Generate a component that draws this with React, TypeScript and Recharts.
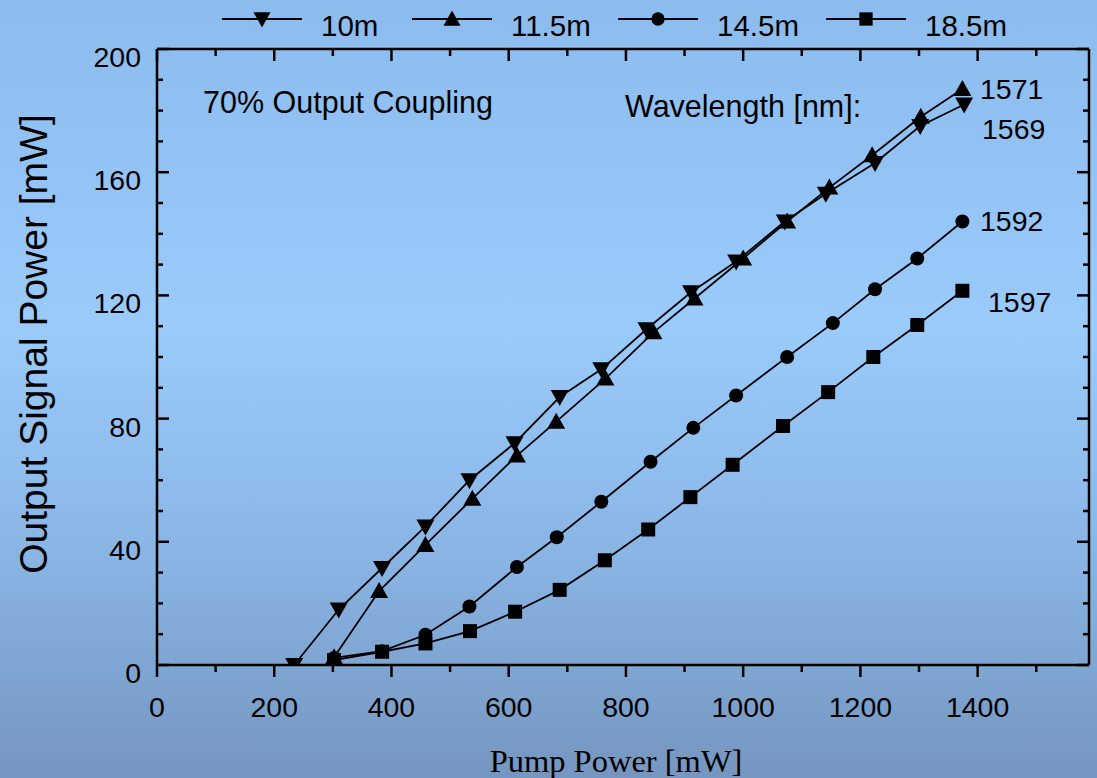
import { Line, LineChart, XAxis, YAxis } from "recharts";

// Pump power [mW] and output signal power [mW] per fibre length
const pump10 = [234, 310, 384, 458, 533, 610, 687, 758, 835, 911, 988, 1071, 1141, 1225, 1302, 1377];
const sig10 = [0, 18, 31.5, 45, 60, 72, 87, 96, 109, 121, 131, 144, 153, 163, 175, 182];

const pump11 = [302, 379, 458, 538, 614, 681, 765, 847, 917, 1000, 1075, 1147, 1220, 1303, 1374];
const sig11 = [2.5, 24, 39, 54, 68, 79, 93, 108, 119, 132, 144, 155, 165.5, 178, 187];

const pump14 = [302, 384, 458, 533, 614, 682, 758, 842, 915, 988, 1075, 1153, 1225, 1297, 1374];
const sig14 = [2.3, 4.5, 9.8, 19, 31.8, 41.5, 53, 66, 77, 87.5, 100, 111, 122, 132, 144];

const pump18 = [302, 384, 458, 534, 611, 687, 764, 838, 910, 982, 1068, 1145, 1222, 1297, 1374];
const sig18 = [1.6, 4.3, 7, 11, 17.3, 24.4, 34, 44, 54.5, 65, 77.6, 88.6, 100, 110.4, 121.5];

const xTicks = [0, 100, 200, 300, 400, 500, 600, 700, 800, 900, 1000, 1100, 1200, 1300, 1400, 1500];
const yTicks = [0, 10, 20, 30, 40, 50, 60, 70, 80, 90, 100, 110, 120, 130, 140, 150, 160, 170, 180, 190, 200];

const zip = (xs: number[], ys: number[]) => xs.map((x, i) => ({ x, y: ys[i] }));

type Shape = "down" | "up" | "circle" | "square";

const SERIES: { name: string; shape: Shape; data: { x: number; y: number }[] }[] = [
  { name: "10m", shape: "down", data: zip(pump10, sig10) },
  { name: "11.5m", shape: "up", data: zip(pump11, sig11) },
  { name: "14.5m", shape: "circle", data: zip(pump14, sig14) },
  { name: "18.5m", shape: "square", data: zip(pump18, sig18) },
];

// left edge of each legend entry (sample line start)
const LEGEND_X = [222, 412, 618, 826];

const W = 1097;
const H = 778;
const SANS = "'Liberation Sans', Arial, Helvetica, sans-serif";
const SERIF = "'Liberation Serif', 'Times New Roman', serif";
const FS = 28.5;

function Marker({ shape, cx, cy, s = 1 }: { shape: Shape; cx: number; cy: number; s?: number }) {
  if (shape === "down")
    return <polygon points={`${cx - 9 * s},${cy - 7 * s} ${cx + 9 * s},${cy - 7 * s} ${cx},${cy + 9 * s}`} fill="#000" />;
  if (shape === "up")
    return <polygon points={`${cx - 9 * s},${cy + 7 * s} ${cx + 9 * s},${cy + 7 * s} ${cx},${cy - 9 * s}`} fill="#000" />;
  if (shape === "circle") return <circle cx={cx} cy={cy} r={7 * s} fill="#000" />;
  return <rect x={cx - 7 * s} y={cy - 7 * s} width={14 * s} height={14 * s} fill="#000" />;
}

const dotFor = (name: string, shape: Shape) => (p: any) =>
  <Marker key={`${name}-${p.index}`} shape={shape} cx={p.cx} cy={p.cy} />;

// custom ticks: major ticks longer + labelled, minor ticks short
const LeftTick = (p: any) => {
  const v = p.payload.value;
  const major = v % 40 === 0;
  return (
    <g>
      <line x1={p.x} x2={p.x + (major ? 12 : 6)} y1={p.y} y2={p.y} stroke="#000" strokeWidth={2.5} />
      {major && (
        <text x={p.x - 16} y={p.y + 18} textAnchor="end" fontSize={FS} fontFamily={SANS} fill="#000">
          {v}
        </text>
      )}
    </g>
  );
};

const RightTick = (p: any) => {
  const major = p.payload.value % 40 === 0;
  return <line x1={p.x} x2={p.x - (major ? 12 : 6)} y1={p.y} y2={p.y} stroke="#000" strokeWidth={2.5} />;
};

const BottomTick = (p: any) => {
  const v = p.payload.value;
  const major = v % 200 === 0;
  return (
    <g>
      <line x1={p.x} x2={p.x} y1={p.y} y2={p.y + (major ? 12 : 7)} stroke="#000" strokeWidth={2.5} />
      {major && (
        <text x={p.x} y={p.y + 52} textAnchor="middle" fontSize={FS} fontFamily={SANS} fill="#000">
          {v}
        </text>
      )}
    </g>
  );
};

const TopTick = (p: any) => {
  const major = p.payload.value % 200 === 0;
  return <line x1={p.x} x2={p.x} y1={p.y} y2={p.y + (major ? 12 : 7)} stroke="#000" strokeWidth={2.5} />;
};

function LegendRow() {
  return (
    <g>
      {SERIES.map((s, i) => {
        const x0 = LEGEND_X[i];
        return (
          <g key={s.name}>
            <line x1={x0} x2={x0 + 80} y1={19} y2={19} stroke="#000" strokeWidth={1.8} />
            <Marker shape={s.shape} cx={x0 + 40} cy={19} s={0.95} />
            <text x={x0 + 99} y={36} fontSize={29.5}>
              {s.name}
            </text>
          </g>
        );
      })}
    </g>
  );
}

const axisLine = { stroke: "#000", strokeWidth: 2.5 };

export default function App() {
  return (
    <div
      style={{
        position: "absolute",
        left: 0,
        top: 0,
        width: W,
        height: H,
        background: "linear-gradient(to bottom, #8cbbee 0%, #9acbfb 42%, #8ab6e6 70%, #7596c0 100%)",
      }}
    >
      <LineChart width={W} height={H} margin={{ top: 48, right: 7, bottom: 112, left: 156 }}>
        <XAxis
          xAxisId="bottom"
          type="number"
          dataKey="x"
          domain={[0, 1590]}
          allowDataOverflow
          ticks={xTicks}
          interval={0}
          height={1}
          tickSize={0}
          tickMargin={0}
          tickLine={false}
          tick={BottomTick}
          axisLine={axisLine}
        />
        <XAxis
          xAxisId="top"
          orientation="top"
          type="number"
          dataKey="x"
          domain={[0, 1590]}
          allowDataOverflow
          ticks={xTicks}
          interval={0}
          height={1}
          tickSize={0}
          tickMargin={0}
          tickLine={false}
          tick={TopTick}
          axisLine={axisLine}
        />
        <YAxis
          yAxisId="left"
          type="number"
          domain={[0, 200]}
          allowDataOverflow
          ticks={yTicks}
          interval={0}
          width={1}
          tickSize={0}
          tickMargin={0}
          tickLine={false}
          tick={LeftTick}
          axisLine={axisLine}
        />
        <YAxis
          yAxisId="right"
          orientation="right"
          type="number"
          domain={[0, 200]}
          allowDataOverflow
          ticks={yTicks}
          interval={0}
          width={1}
          tickSize={0}
          tickMargin={0}
          tickLine={false}
          tick={RightTick}
          axisLine={axisLine}
        />
        {SERIES.map((s) => (
          <Line
            key={s.name}
            name={s.name}
            xAxisId="bottom"
            yAxisId="left"
            data={s.data}
            dataKey="y"
            stroke="#000"
            strokeWidth={1.8}
            dot={dotFor(s.name, s.shape)}
            activeDot={false}
            isAnimationActive={false}
          />
        ))}
      </LineChart>
      <svg
        width={W}
        height={H}
        style={{ position: "absolute", left: 0, top: 0, pointerEvents: "none" }}
        fontFamily={SANS}
        fontSize={FS}
      >
        <LegendRow />
        <text x={203} y={113} fontSize={30.5}>70% Output Coupling</text>
        <text x={625} y={117} fontSize={30.5}>Wavelength [nm]:</text>
        <text x={980} y={99}>1571</text>
        <text x={982} y={139}>1569</text>
        <text x={980} y={231}>1592</text>
        <text x={988} y={312}>1597</text>
        <text x={616} y={772} textAnchor="middle" fontFamily={SERIF} fontSize={32.5}>
          Pump Power [mW]
        </text>
        <text x={47} y={344} textAnchor="middle" fontSize={39} transform="rotate(-90 47 344)">
          Output Signal Power [mW]
        </text>
      </svg>
    </div>
  );
}
